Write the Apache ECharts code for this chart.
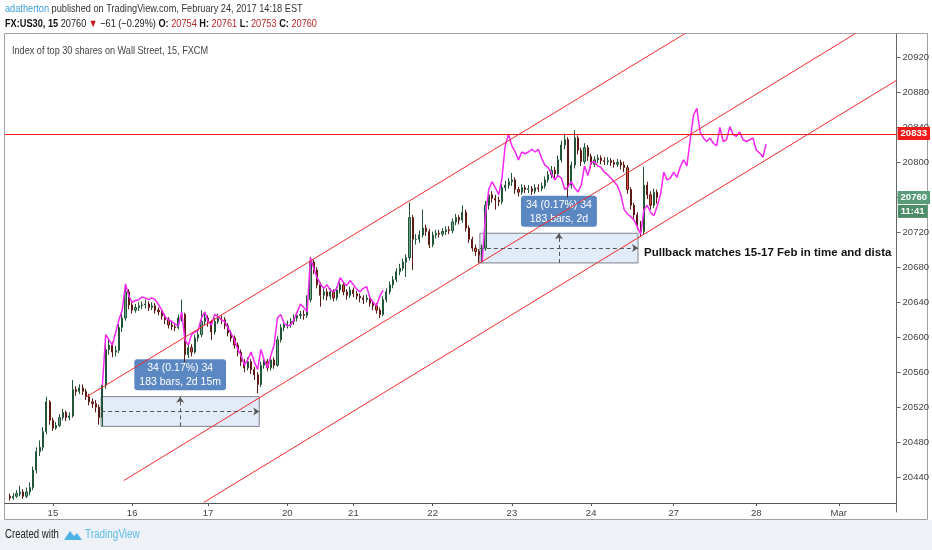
<!DOCTYPE html>
<html>
<head>
<meta charset="utf-8">
<script src="https://cdn.jsdelivr.net/npm/echarts@6/dist/echarts.min.js"></script>
<style>
html, body { margin: 0; padding: 0; background: #fff; }
#chart { width: 932px; height: 550px; }
</style>
</head>
<body>
<div id="chart"></div>
<script>
// time axis: one slot per hour of trading, day ticks at these slots
var dayLabels = ['15', '16', '17', '20', '21', '22', '23', '24', '27', '28', 'Mar'];
var dayIndex = [14, 38, 61, 85, 105, 129, 153, 177, 202, 227, 252];
var slotCount = 270;

// FX:US30 candles [open, close, low, high], first one sits in slot 1
var firstCandle = 1;
var candles = [
	[20418, 20416, 20413, 20421], [20416, 20418, 20414, 20422], [20418, 20421, 20416, 20425], [20421, 20423, 20418, 20430],
	[20423, 20418, 20415, 20426], [20418, 20423, 20416, 20428], [20423, 20428, 20419, 20434], [20428, 20448, 20425, 20452],
	[20448, 20469, 20444, 20474], [20469, 20474, 20464, 20482], [20474, 20492, 20470, 20497], [20492, 20526, 20489, 20532],
	[20526, 20505, 20500, 20528], [20505, 20496, 20493, 20508], [20496, 20499, 20494, 20503], [20499, 20508, 20497, 20512],
	[20508, 20514, 20505, 20518], [20514, 20508, 20504, 20516], [20508, 20510, 20505, 20514], [20510, 20540, 20508, 20551],
	[20540, 20538, 20533, 20544], [20538, 20542, 20535, 20546], [20542, 20538, 20534, 20546], [20538, 20532, 20528, 20541],
	[20532, 20526, 20522, 20535], [20526, 20524, 20519, 20530], [20524, 20520, 20514, 20528], [20520, 20508, 20500, 20523],
	[20508, 20545, 20498, 20549], [20545, 20586, 20541, 20600], [20586, 20591, 20580, 20597], [20591, 20583, 20577, 20595],
	[20583, 20585, 20578, 20590], [20585, 20611, 20582, 20615], [20611, 20622, 20606, 20627], [20622, 20652, 20619, 20658],
	[20652, 20637, 20632, 20655], [20637, 20631, 20627, 20640], [20631, 20634, 20628, 20638], [20634, 20636, 20630, 20640],
	[20636, 20637, 20632, 20641], [20637, 20638, 20633, 20643], [20638, 20634, 20630, 20641], [20634, 20636, 20631, 20640],
	[20636, 20631, 20627, 20639], [20631, 20629, 20625, 20634], [20629, 20624, 20620, 20632], [20624, 20620, 20615, 20627],
	[20620, 20614, 20610, 20623], [20614, 20612, 20608, 20618], [20612, 20611, 20607, 20616], [20611, 20622, 20609, 20626],
	[20622, 20626, 20618, 20643], [20626, 20580, 20572, 20628], [20580, 20588, 20576, 20593], [20588, 20583, 20578, 20592],
	[20583, 20599, 20581, 20603], [20599, 20603, 20595, 20608], [20603, 20618, 20600, 20631], [20618, 20622, 20614, 20627],
	[20622, 20618, 20612, 20625], [20618, 20606, 20597, 20620], [20606, 20618, 20603, 20622], [20618, 20622, 20615, 20627],
	[20622, 20620, 20615, 20625], [20620, 20613, 20609, 20623], [20613, 20605, 20601, 20616], [20605, 20599, 20595, 20608],
	[20599, 20591, 20587, 20602], [20591, 20583, 20578, 20594], [20583, 20572, 20567, 20586], [20572, 20565, 20560, 20575],
	[20565, 20572, 20562, 20577], [20572, 20563, 20558, 20575], [20563, 20557, 20551, 20566], [20557, 20546, 20536, 20560],
	[20546, 20568, 20543, 20572], [20568, 20572, 20564, 20577], [20572, 20565, 20561, 20575], [20565, 20574, 20562, 20578],
	[20574, 20568, 20564, 20577], [20568, 20597, 20566, 20601], [20597, 20611, 20594, 20615], [20611, 20614, 20607, 20618],
	[20614, 20615, 20610, 20619], [20615, 20618, 20611, 20622], [20618, 20622, 20614, 20626], [20622, 20625, 20618, 20629],
	[20625, 20626, 20621, 20630], [20626, 20625, 20620, 20631], [20625, 20643, 20622, 20648], [20643, 20686, 20640, 20692],
	[20686, 20677, 20672, 20689], [20677, 20660, 20656, 20680], [20660, 20648, 20635, 20663], [20648, 20652, 20643, 20657],
	[20652, 20647, 20642, 20656], [20647, 20652, 20643, 20656], [20652, 20645, 20641, 20655], [20645, 20654, 20642, 20658],
	[20654, 20660, 20650, 20665], [20660, 20652, 20648, 20663], [20652, 20648, 20643, 20655], [20648, 20654, 20645, 20658],
	[20654, 20650, 20646, 20657], [20650, 20647, 20643, 20653], [20647, 20645, 20640, 20650], [20645, 20643, 20638, 20648],
	[20643, 20645, 20640, 20649], [20645, 20639, 20635, 20648], [20639, 20636, 20631, 20642], [20636, 20631, 20627, 20639],
	[20631, 20626, 20622, 20634], [20626, 20643, 20624, 20647], [20643, 20652, 20640, 20656], [20652, 20660, 20649, 20664],
	[20660, 20666, 20656, 20670], [20666, 20675, 20663, 20679], [20675, 20679, 20671, 20684], [20679, 20686, 20676, 20690],
	[20686, 20691, 20669, 20695], [20691, 20737, 20688, 20754], [20737, 20712, 20677, 20740], [20712, 20712, 20706, 20718],
	[20712, 20717, 20708, 20722], [20717, 20725, 20714, 20746], [20725, 20721, 20716, 20729], [20721, 20706, 20702, 20724],
	[20706, 20717, 20703, 20721], [20717, 20719, 20713, 20723], [20719, 20718, 20714, 20723], [20718, 20721, 20715, 20725],
	[20721, 20723, 20717, 20727], [20723, 20722, 20718, 20727], [20722, 20732, 20719, 20736], [20732, 20737, 20728, 20741],
	[20737, 20734, 20729, 20740], [20734, 20743, 20731, 20751], [20743, 20725, 20721, 20746], [20725, 20712, 20708, 20728],
	[20712, 20702, 20698, 20715], [20702, 20698, 20693, 20706], [20698, 20694, 20685, 20701], [20694, 20702, 20686, 20706],
	[20702, 20751, 20699, 20756], [20751, 20763, 20746, 20768], [20763, 20759, 20754, 20767], [20759, 20757, 20746, 20763],
	[20757, 20755, 20750, 20761], [20755, 20771, 20752, 20775], [20771, 20774, 20767, 20779], [20774, 20778, 20770, 20782],
	[20778, 20780, 20773, 20788], [20780, 20769, 20764, 20783], [20769, 20766, 20761, 20772], [20766, 20771, 20763, 20775],
	[20771, 20769, 20765, 20774], [20769, 20770, 20765, 20774], [20770, 20767, 20763, 20773], [20767, 20771, 20764, 20775],
	[20771, 20770, 20766, 20775], [20770, 20773, 20767, 20777], [20773, 20780, 20770, 20784], [20780, 20786, 20777, 20790],
	[20786, 20791, 20782, 20796], [20791, 20787, 20782, 20795], [20787, 20803, 20784, 20808], [20803, 20820, 20800, 20825],
	[20820, 20826, 20815, 20833], [20826, 20774, 20760, 20829], [20774, 20797, 20770, 20801], [20797, 20828, 20793, 20837],
	[20828, 20814, 20809, 20831], [20814, 20801, 20796, 20817], [20801, 20817, 20798, 20822], [20817, 20807, 20802, 20820],
	[20807, 20798, 20793, 20810], [20798, 20803, 20795, 20807], [20803, 20805, 20799, 20809], [20805, 20802, 20798, 20808],
	[20802, 20801, 20797, 20806], [20801, 20802, 20797, 20806], [20802, 20800, 20796, 20805], [20800, 20798, 20794, 20803],
	[20798, 20800, 20795, 20804], [20800, 20797, 20792, 20803], [20797, 20794, 20789, 20801], [20794, 20769, 20764, 20797],
	[20769, 20751, 20746, 20772], [20751, 20740, 20735, 20754], [20740, 20729, 20723, 20743], [20729, 20721, 20715, 20733],
	[20721, 20774, 20718, 20795], [20774, 20763, 20758, 20778], [20763, 20751, 20746, 20767], [20751, 20766, 20748, 20770],
	[20766, 20760, 20753, 20769]
];

// bars pattern (magenta), two pieces
var patternAStart = 29;
var patternA = [
	20545, 20603, 20597, 20591, 20605, 20620, 20631, 20661, 20647, 20640,
	20642, 20643, 20646, 20645, 20643, 20645, 20643, 20637, 20631, 20623,
	20620, 20618, 20615, 20613, 20629, 20597, 20591, 20603, 20606, 20608,
	20622, 20629, 20618, 20614, 20626, 20624, 20620, 20618, 20611, 20604,
	20597, 20586, 20579, 20568, 20574, 20583, 20572, 20563, 20586, 20574,
	20565, 20579, 20591, 20622, 20626, 20616, 20613, 20614, 20620, 20629,
	20638, 20634, 20629, 20691, 20679, 20668, 20661, 20656, 20660, 20654,
	20652, 20656, 20668, 20663, 20659, 20665, 20660, 20655, 20652, 20656,
	20658, 20645, 20640, 20636, 20647, 20654
];
var patternBStart = 144;
var patternB = [
	20686, 20740, 20769, 20778, 20771, 20763, 20782, 20820, 20832, 20819,
	20812, 20803, 20812, 20810, 20812, 20815, 20812, 20815, 20805, 20797,
	20794, 20787, 20780, 20785, 20782, 20769, 20772, 20778, 20771, 20766,
	20774, 20796, 20785, 20800, 20801, 20796, 20794, 20789, 20786, 20782,
	20778, 20773, 20763, 20746, 20741, 20738, 20734, 20726, 20718, 20746,
	20751, 20743, 20739, 20750, 20763, 20789, 20780, 20782, 20789, 20783,
	20795, 20803, 20796, 20826, 20854, 20862, 20835, 20828, 20824, 20828,
	20822, 20819, 20840, 20824, 20826, 20841, 20832, 20830, 20835, 20826,
	20824, 20826, 20828, 20814, 20811, 20806, 20821
];

// price scale: ticks every 40 from 20400, the scale runs under the time axis
var priceMin = 20400;
var priceMax = 20947;
var priceStep = 40;
var levelPrice = 20833;
var lastPrice = 20760;
var countdown = '11:41';

// parallel channel, [slot, price] end points
var channelTop = [[24.3, 20532], [210, 20958]];
var channelMid = [[35.5, 20436], [262, 20959]];
var channelLow = [[59.7, 20411], [269.5, 20894]];

// date and price ranges
var rangeFrom = [28.6, 143.3];
var rangeTo = [76.5, 191.2];
var rangeLow = [20498, 20685];
var rangeHigh = [20532, 20719];
var rangeText = [['34 (0.17%) 34', '183 bars, 2d 15m'], ['34 (0.17%) 34', '183 bars, 2d']];
var noteText = 'Pullback matches 15-17 Feb in time and distance';

var sans = "'Liberation Sans', Arial, sans-serif";
var red = '#f01a1a';

function padded(start, values) {
	var out = [];
	for (var i = 0; i < start; i++) out.push('-');
	return out.concat(values);
}

var catData = [];
for (var k = 0; k < slotCount; k++) catData.push('');
dayIndex.forEach(function (idx, i) { catData[idx] = dayLabels[i]; });
function isDay(idx) { return catData[idx] !== ''; }

var rangeAreas = [], rangeArrows = [];
for (var r = 0; r < rangeFrom.length; r++) {
	var midP = (rangeLow[r] + rangeHigh[r]) / 2;
	var midX = (rangeFrom[r] + rangeTo[r]) / 2;
	rangeAreas.push([{
		coord: [rangeFrom[r], rangeHigh[r]],
		label: {
			show: true, position: 'top', distance: 6,
			formatter: rangeText[r].join('\n'),
			backgroundColor: '#5b87c2', color: '#fff', borderRadius: 3,
			fontFamily: sans, fontSize: 10.5, lineHeight: 14, padding: [2, 5, 1, 5], align: 'center'
		}
	}, { coord: [rangeTo[r], rangeLow[r]] }]);
	rangeArrows.push([{ coord: [rangeFrom[r], midP] }, { coord: [rangeTo[r], midP] }]);
	rangeArrows.push([{ coord: [midX, rangeLow[r]] }, { coord: [midX, rangeHigh[r]] }]);
}
// the note sits right of the second range
rangeAreas.push([{
	coord: [rangeTo[1], rangeHigh[1]],
	itemStyle: { color: 'rgba(0,0,0,0)', borderWidth: 0 },
	label: {
		show: true, position: 'right', distance: 6, offset: [0, 5],
		formatter: noteText, color: '#111', fontFamily: sans, fontWeight: 'bold', fontSize: 11.5,
		width: 254, overflow: 'truncate', ellipsis: ''
	}
}, { coord: [rangeTo[1], rangeLow[1]] }]);

function straight(points, color, z) {
	return {
		type: 'line', xAxisIndex: 1, yAxisIndex: 0, data: points, symbol: 'none', silent: true,
		clip: true, z: z, lineStyle: { color: color, width: 1 }, animation: false
	};
}

var chart = echarts.init(document.getElementById('chart'), null, { renderer: 'canvas' });
chart.setOption({
	animation: false,
	backgroundColor: '#fff',
	grid: { left: 5, right: 35, top: 34, bottom: 38 },
	xAxis: [{
		type: 'category', data: catData, boundaryGap: true, offset: -9,
		axisLine: { onZero: false, lineStyle: { color: '#555', width: 1 } },
		axisTick: { show: true, alignWithLabel: true, length: 3, interval: function (i) { return isDay(i); }, lineStyle: { color: '#555' } },
		axisLabel: { interval: function (i) { return isDay(i); }, color: '#444', fontFamily: sans, fontSize: 9.5, margin: 5 },
		splitLine: { show: false }
	}, {
		type: 'value', min: -0.5, max: slotCount - 0.5, show: false,
		axisLine: { onZero: false }
	}],
	yAxis: {
		type: 'value', position: 'right', min: priceMin, max: priceMax, interval: priceStep,
		axisLine: { show: true, onZero: false, lineStyle: { color: '#666', width: 1 } },
		axisTick: { show: true, length: 4, lineStyle: { color: '#666' } },
		axisLabel: {
			color: '#444', fontFamily: sans, fontSize: 9.5, margin: 6, showMinLabel: false, showMaxLabel: false,
			formatter: function (v) { return String(v); }
		},
		splitLine: { show: false }
	},
	series: [{
		type: 'candlestick', xAxisIndex: 0, yAxisIndex: 0,
		data: padded(firstCandle, candles),
		z: 2,
		itemStyle: { color: '#6ba583', color0: '#d75442', borderColor: '#225437', borderColor0: '#5b1a13', borderWidth: 1 }
	}, {
		type: 'line', xAxisIndex: 0, yAxisIndex: 0, name: 'patternA',
		data: padded(patternAStart, patternA), showSymbol: false, symbol: 'none', z: 3,
		lineStyle: { color: '#f527f0', width: 1.5 }, silent: true
	}, {
		type: 'line', xAxisIndex: 0, yAxisIndex: 0, name: 'patternB',
		data: padded(patternBStart, patternB), showSymbol: false, symbol: 'none', z: 3,
		lineStyle: { color: '#f527f0', width: 1.5 }, silent: true
	},
	straight(channelTop, '#f02a2a', 4), straight(channelMid, '#f02a2a', 4), straight(channelLow, '#f02a2a', 4),
	{
		type: 'line', xAxisIndex: 1, yAxisIndex: 0, data: [], z: 6, silent: true,
		markArea: {
			silent: true,
			itemStyle: { color: 'rgba(110,155,220,0.2)', borderColor: '#7d838c', borderWidth: 1 },
			data: rangeAreas
		},
		markLine: {
			silent: true, symbol: ['none', 'arrow'], symbolSize: [6, 6], animation: false,
			lineStyle: { color: '#555', width: 1, type: [4, 3] },
			label: { show: false },
			data: rangeArrows
		}
	}],
	graphic: [
		{ id: 'footer', type: 'rect', z: -10, shape: { x: 0, y: 520, width: 932, height: 30 }, style: { fill: '#eef1f5' } },
		{ id: 'frame', type: 'rect', z: -5, shape: { x: 4.5, y: 33.5, width: 923, height: 486 }, style: { fill: 'none', stroke: '#9ea2a8', lineWidth: 1 } },
		{
			id: 'head1', type: 'text', x: 5, y: 3, scaleX: 0.8, style: {
				text: '{u|adatherton} published on TradingView.com, February 24, 2017 14:18 EST',
				fill: '#333', font: '11.5px ' + sans,
				rich: { u: { fill: '#3b9fd8', font: '11.5px ' + sans } }
			}
		},
		{
			id: 'head2', type: 'text', x: 5, y: 18, scaleX: 0.8, style: {
				text: '{b|FX:US30, 15} 20760 {d|▼} \u221261 (\u22120.29%) {b|O:} {r|20754} {b|H:} {r|20761} {b|L:} {r|20753} {b|C:} {r|20760}',
				fill: '#222', font: '11.5px ' + sans,
				rich: {
					b: { fill: '#111', font: 'bold 11.5px ' + sans },
					d: { fill: '#d01010', font: '11px ' + sans },
					r: { fill: '#b8282a', font: '11.5px ' + sans }
				}
			}
		},
		{ id: 'title', type: 'text', x: 12, y: 45, scaleX: 0.83, style: { text: 'Index of top 30 shares on Wall Street, 15, FXCM', fill: '#444', font: '11px ' + sans } },
		{ id: 'created', type: 'text', x: 5, y: 529, scaleX: 0.8, style: { text: 'Created with', fill: '#222', font: '12px ' + sans } },
		{ id: 'logo', type: 'polygon', shape: { points: [[64, 540], [70, 531], [74, 536], [77, 533], [82, 540]] }, style: { fill: '#4eb2e6' } },
		{ id: 'brand', type: 'text', x: 85, y: 529, scaleX: 0.83, style: { text: 'TradingView', fill: '#5cbde9', font: '12px ' + sans } }
	]
});

// horizontal level and price tags, placed through the axes
var plotLeft = chart.convertToPixel({ xAxisIndex: 1 }, -0.5);
var axisX = chart.convertToPixel({ xAxisIndex: 1 }, slotCount - 0.5);
var levelY = chart.convertToPixel({ yAxisIndex: 0 }, levelPrice);
var lastY = chart.convertToPixel({ yAxisIndex: 0 }, lastPrice);
var crispY = Math.round(levelY) + 0.5;
var tagFont = 'bold 9.5px ' + sans;
chart.setOption({
	graphic: [
		{ id: 'level', type: 'line', z: 15, shape: { x1: plotLeft, y1: crispY, x2: axisX, y2: crispY }, style: { stroke: red, lineWidth: 1 } },
		{ id: 'tagLevel', type: 'text', z: 20, x: axisX + 1, y: levelY, style: { text: String(levelPrice), fill: '#fff', font: tagFont, verticalAlign: 'middle', backgroundColor: red, padding: [2, 3, 1, 3] } },
		{ id: 'tagLast', type: 'text', z: 20, x: axisX + 1, y: lastY, style: { text: String(lastPrice), fill: '#fff', font: tagFont, verticalAlign: 'middle', backgroundColor: '#5a9c78', padding: [2, 3, 1, 3] } },
		{ id: 'tagTime', type: 'text', z: 20, x: axisX + 31, y: lastY + 14, style: { text: countdown, fill: '#fff', font: tagFont, align: 'right', verticalAlign: 'middle', backgroundColor: '#4e8d69', padding: [2, 3, 1, 3] } }
	]
});
</script>
</body>
</html>
